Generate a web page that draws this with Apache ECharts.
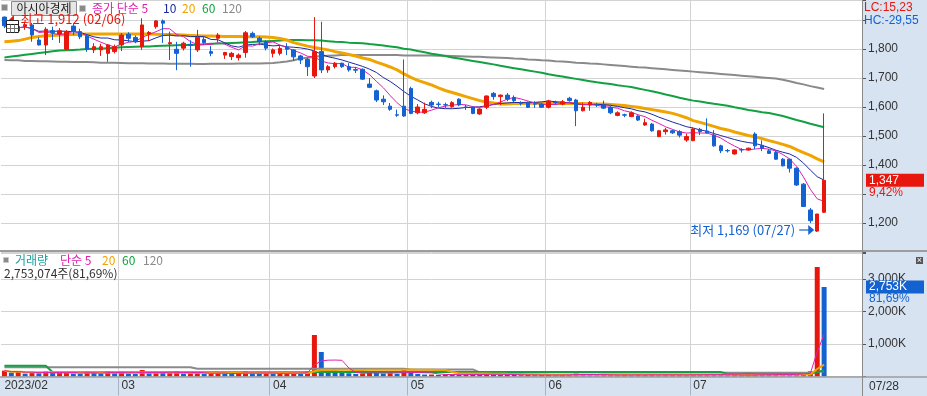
<!DOCTYPE html>
<html><head><meta charset="utf-8">
<script src="https://cdn.jsdelivr.net/npm/echarts@6/dist/echarts.min.js"></script>
<style>html,body{margin:0;padding:0;background:#fff;overflow:hidden}#c{width:927px;height:396px}</style>
</head><body><div id="c"></div>
<script>
// ---------------- DATA ----------------
const dates = [
'2023/02/06','2023/02/07','2023/02/08','2023/02/09','2023/02/10','2023/02/13','2023/02/14','2023/02/15','2023/02/16','2023/02/17','2023/02/20','2023/02/21','2023/02/22','2023/02/23','2023/02/24','2023/02/27','2023/02/28',
'2023/03/02','2023/03/03','2023/03/06','2023/03/07','2023/03/08','2023/03/09','2023/03/10','2023/03/13','2023/03/14','2023/03/15','2023/03/16','2023/03/17','2023/03/20','2023/03/21','2023/03/22','2023/03/23','2023/03/24','2023/03/27','2023/03/28','2023/03/29','2023/03/30','2023/03/31',
'2023/04/03','2023/04/04','2023/04/05','2023/04/06','2023/04/07','2023/04/10','2023/04/11','2023/04/12','2023/04/13','2023/04/14','2023/04/17','2023/04/18','2023/04/19','2023/04/20','2023/04/21','2023/04/24','2023/04/25','2023/04/26','2023/04/27','2023/04/28',
'2023/05/02','2023/05/03','2023/05/04','2023/05/08','2023/05/09','2023/05/10','2023/05/11','2023/05/12','2023/05/15','2023/05/16','2023/05/17','2023/05/18','2023/05/19','2023/05/22','2023/05/23','2023/05/24','2023/05/25','2023/05/26','2023/05/30','2023/05/31',
'2023/06/01','2023/06/02','2023/06/05','2023/06/07','2023/06/08','2023/06/09','2023/06/12','2023/06/13','2023/06/14','2023/06/15','2023/06/16','2023/06/19','2023/06/20','2023/06/21','2023/06/22','2023/06/23','2023/06/26','2023/06/27','2023/06/28','2023/06/29','2023/06/30',
'2023/07/03','2023/07/04','2023/07/05','2023/07/06','2023/07/07','2023/07/10','2023/07/11','2023/07/12','2023/07/13','2023/07/14','2023/07/17','2023/07/18','2023/07/19','2023/07/20','2023/07/21','2023/07/24','2023/07/25','2023/07/26','2023/07/27','2023/07/28'
];
const padSlots = ['p1','p2','p3','p4','p5'];

const opens = [
1910,1878,1862,1878,1883,1831,1814,1863,1852,1799,1879,1860,1845,1797,1797,1785,1791,
1814,1851,1840,1808,1852,1877,1897,1818,1799,1803,1816,1797,1833,1791,1837,1779,1774,1770,1788,1854,1837,1825,
1785,1785,1806,1797,1776,1764,1707,1791,1728,1739,1751,1739,1729,1730,1679,1656,1627,1603,1573,1603,
1664,1580,1580,1616,1610,1608,1601,1627,1600,1599,1576,1599,1647,1636,1641,1633,1614,1615,1611,1610,
1599,1616,1610,1630,1624,1587,1607,1608,1607,1599,1571,1573,1567,1569,1538,1541,1498,1515,1518,1515,1486,
1484,1523,1517,1503,1466,1450,1438,1453,1452,1507,1468,1449,1443,1420,1420,1389,1334,1245,1172,1237
];
const highs = [
1912,1888,1884,1892,1890,1840,1875,1877,1872,1865,1886,1870,1850,1820,1818,1817,1815,
1855,1858,1847,1906,1862,1900,1902,1860,1825,1825,1830,1866,1845,1810,1855,1790,1790,1785,1862,1860,1843,1830,
1802,1810,1820,1800,1780,1770,1910,1894,1745,1755,1753,1751,1738,1733,1700,1660,1640,1614,1591,1764,
1670,1610,1615,1622,1618,1615,1620,1630,1607,1602,1596,1640,1652,1643,1648,1640,1620,1619,1620,1614,
1625,1622,1624,1635,1628,1615,1620,1614,1622,1603,1585,1577,1585,1571,1560,1545,1520,1528,1522,1520,1508,
1530,1528,1561,1520,1470,1455,1454,1458,1460,1513,1485,1455,1450,1424,1422,1392,1338,1252,1231,1578
];
const lows = [
1872,1856,1855,1866,1825,1812,1779,1831,1821,1795,1848,1834,1790,1786,1776,1756,1785,
1793,1824,1820,1797,1828,1870,1821,1762,1727,1795,1739,1790,1815,1775,1824,1766,1762,1760,1770,1838,1813,1795,
1771,1778,1779,1759,1748,1707,1700,1717,1718,1733,1735,1722,1717,1694,1665,1617,1607,1587,1566,1566,
1575,1575,1576,1596,1600,1597,1598,1603,1590,1575,1573,1593,1625,1607,1620,1617,1605,1597,1597,1597,
1595,1607,1606,1618,1534,1585,1587,1600,1593,1575,1568,1565,1565,1552,1535,1515,1496,1505,1507,1495,1480,
1482,1503,1508,1463,1441,1443,1436,1443,1450,1455,1448,1438,1418,1395,1374,1328,1255,1200,1169,1235
];
const closes = [
1880,1862,1878,1884,1848,1814,1868,1856,1863,1860,1860,1842,1799,1808,1808,1814,1808,
1848,1837,1825,1883,1857,1897,1889,1822,1785,1820,1812,1840,1822,1785,1848,1788,1785,1779,1856,1842,1825,1803,
1797,1802,1799,1773,1762,1739,1791,1728,1739,1751,1739,1728,1727,1696,1668,1624,1618,1592,1572,1569,
1578,1600,1592,1607,1609,1607,1615,1607,1599,1578,1593,1638,1636,1641,1627,1622,1613,1599,1610,1599,
1621,1615,1618,1622,1587,1599,1616,1607,1596,1580,1580,1572,1580,1555,1546,1518,1518,1521,1511,1503,1498,
1524,1515,1511,1466,1449,1449,1452,1452,1458,1466,1458,1440,1420,1397,1389,1331,1257,1208,1231,1347
];
// moving averages (they need history before the first candle)
const ma20 = [
1825,1827,1829,1834,1840,1843,1846,1847,1848,1850,1850,1851,1852,1852,1852,1852,1852,
1852,1852,1852,1852,1852,1851,1850,1850,1849,1848,1847,1846,1845,1845,1844,1843,1843,1843,1842,1842,1842,1841,
1840,1836,1831,1822,1816,1810,1805,1801,1797,1791,1786,1781,1776,1769,1764,1755,1747,1738,1728,1714,
1702,1692,1684,1676,1666,1657,1650,1643,1636,1629,1622,1617,1614,1610,1610,1612,1612,1613,1613,1613,
1612,1612,1612,1612,1612,1612,1611,1610,1610,1609,1607,1605,1602,1599,1595,1591,1587,1583,1578,1571,1563,
1553,1547,1540,1533,1526,1521,1514,1508,1502,1497,1491,1484,1478,1471,1464,1453,1443,1433,1421,1411
];
const ma60 = [
1771,1774,1777,1780,1783,1786,1789,1792,1795,1796,1797,1798,1800,1801,1802,1803,1804,
1806,1807,1808,1809,1809,1810,1811,1812,1813,1814,1814,1815,1816,1818,1819,1820,1821,1822,1823,1824,1826,1827,
1828,1829,1831,1831,1831,1830,1830,1829,1827,1825,1824,1822,1821,1820,1817,1815,1812,1809,1806,1801,
1798,1793,1789,1784,1780,1776,1771,1767,1763,1759,1755,1751,1747,1742,1738,1734,1730,1726,1722,1718,
1713,1709,1705,1701,1697,1693,1689,1685,1682,1679,1675,1672,1669,1664,1659,1654,1649,1643,1638,1632,1627,
1622,1619,1615,1611,1608,1604,1599,1595,1590,1586,1582,1579,1574,1569,1562,1555,1549,1542,1536,1530
];
const ma120 = [
1762,1761,1761,1759,1759,1758,1758,1757,1756,1756,1755,1755,1755,1754,1753,1753,1753,
1752,1751,1751,1751,1750,1750,1750,1749,1749,1749,1749,1748,1748,1749,1749,1749,1749,1750,1750,1750,1750,1751,
1752,1754,1757,1761,1767,1770,1773,1776,1777,1778,1779,1779,1779,1779,1779,1779,1779,1779,1779,1778,
1778,1778,1778,1778,1777,1777,1776,1775,1774,1773,1773,1772,1771,1770,1769,1767,1766,1764,1763,1761,
1760,1758,1757,1755,1753,1752,1750,1749,1747,1745,1743,1741,1739,1737,1736,1734,1732,1730,1728,1726,1724,
1722,1720,1718,1716,1714,1712,1710,1708,1706,1704,1702,1700,1698,1694,1689,1683,1678,1672,1667,1662
];
// volume in thousands of shares
const volumes = [
180,120,150,90,130,100,160,110,120,140,90,80,150,110,90,160,100,
150,90,80,200,100,120,110,130,170,90,100,140,80,90,110,100,80,90,160,100,90,110,
90,100,110,120,100,150,1277,754,230,120,110,100,80,90,150,120,90,100,80,200,
150,80,60,60,50,70,60,50,60,70,60,90,60,50,60,50,40,50,40,50,
50,40,50,60,90,60,50,40,50,60,40,50,40,60,50,60,40,50,50,60,40,
60,50,70,60,50,40,50,40,40,80,60,50,60,70,60,80,120,160,3370,2753.074
];
// long volume averages (they need history before the first bar)
const vma60 = [
330,330,330,330,330,330,330,
130,130,130,130,130,130,130,130,130,130,130,130,130,130,130,130,130,130,130,130,130,130,130,130,130,130,130,130,130,130,130,130,
130,130,130,130,130,130,
131,144,
135,135,135,135,135,135,135,135,135,135,135,135,135,135,135,135,135,135,135,135,135,135,135,135,135,135,135,135,135,
135,135,135,135,135,135,135,135,135,135,135,135,135,135,135,135,135,135,135,135,135,135,135,135,135,135,135,135,135,
80,80,80,80,80,80,80,80,80,80,80,80,80,
136,182
];
const vma120 = [
285,285,285,285,285,285,285,285,285,285,285,285,285,285,285,285,285,285,285,285,285,285,285,285,285,285,285,285,
240,240,240,240,240,240,240,240,240,240,240,240,240,240,240,240,240,240,240,240,240,240,240,240,240,240,240,240,240,240,240,
218,218,218,218,218,218,218,218,218,218,
128,128,128,128,128,128,128,128,128,128,128,128,128,128,128,128,128,128,
122,122,122,122,122,122,122,122,122,122,122,122,122,122,122,122,122,122,
112,112,112,112,112,112,112,112,112,112,112,112,112,
140,163
];
const priceLabels = [1200,1400,1500,1600,1700,1800];
const volLabels = [1000,2000,3000];

// ---------------- STYLE ----------------
const RED='#e8170d', BLUE='#1462d2', PANEL='#d7e3f1';
const C_MA5='#e020b0', C_MA10='#1c2aa0', C_MA20='#f0a400', C_MA60='#13a043', C_MA120='#8a8a8a', C_VOL='#1aa0a0';
const NUMF='"Liberation Sans", Arial, sans-serif';
const KRF='"Noto Sans CJK KR", sans-serif';

function sma(arr,n){return arr.map((_,i)=>{const s=Math.max(0,i-n+1);let t=0;for(let k=s;k<=i;k++)t+=arr[k];return +(t/(i-s+1)).toFixed(2);});}
const fmtInt=v=>Math.round(v).toString().replace(/\B(?=(\d{3})+(?!\d))/g,',');
const fmtDec=v=>v.toFixed(2).replace('.',',');

const N=dates.length;
const cats=dates.concat(padSlots);
const monthStart=new Set(dates.map((d,i)=>i>0&&d.slice(5,7)!==dates[i-1].slice(5,7)?i:-1).filter(i=>i>=0));
const ma5=sma(closes,5), ma10=sma(closes,10);
const vma5=sma(volumes,5), vma20=sma(volumes,20);
const ohlc=dates.map((_,i)=>[opens[i],closes[i],lows[i],highs[i]]);
const volData=volumes.map((v,i)=>({value:v,itemStyle:{color:(i===0||v>=volumes[i-1])?RED:BLUE}}));

const chart=echarts.init(document.getElementById('c'),null,{renderer:'canvas'});
const xBase=(g)=>({type:'category',gridIndex:g,data:cats,boundaryGap:true,
  axisLine:{show:false},axisTick:{show:false},axisLabel:{show:false},
  splitLine:{show:true,interval:(i)=>monthStart.has(i),lineStyle:{color:'#d3d3d3',width:1}}});
const xVol=xBase(1);
xVol.axisLabel={show:true,interval:(i)=>i===0||monthStart.has(i),align:'left',margin:3,color:'#333',fontSize:12,fontFamily:NUMF,
  formatter:(v,i)=>i===0?v.slice(0,7):v.slice(5,7)};
xVol.axisTick={show:true,interval:(i)=>monthStart.has(i),length:19,lineStyle:{color:'#a9b4c2'}};

const lineS=(name,data,color,width,xi,yi,z)=>({name,type:'line',data,xAxisIndex:xi,yAxisIndex:yi,symbol:'none',showSymbol:false,
  lineStyle:{color,width},itemStyle:{color},z,silent:true,animation:false});

chart.setOption({
  animation:false,
  backgroundColor:'#ffffff',
  grid:[{left:1,right:65,top:0,height:252},{left:1,right:65,top:253,height:123.5}],
  xAxis:[xBase(0),xVol],
  yAxis:[
    {type:'value',gridIndex:0,position:'right',min:1100,max:1969,interval:100,
     axisLine:{show:true,lineStyle:{color:'#7c7c7c'}},axisTick:{show:true,length:4,lineStyle:{color:'#555'}},
     axisLabel:{color:'#333',fontSize:12,fontFamily:NUMF,margin:6,formatter:v=>priceLabels.includes(v)?fmtInt(v):''},
     splitLine:{lineStyle:{color:'#d3d3d3'}}},
    {type:'value',gridIndex:1,position:'right',min:0,max:3800,interval:1000,
     axisLine:{show:true,lineStyle:{color:'#7c7c7c'}},axisTick:{show:true,length:4,lineStyle:{color:'#555'}},
     axisLabel:{color:'#333',fontSize:12,fontFamily:NUMF,margin:6,formatter:v=>volLabels.includes(v)?fmtInt(v)+'K':''},
     splitLine:{lineStyle:{color:'#d3d3d3'}}}
  ],
  series:[
    lineS('MA120',ma120,C_MA120,2,0,0,2),
    lineS('MA60',ma60,C_MA60,2,0,0,2),
    lineS('MA20',ma20,C_MA20,3,0,0,3),
    lineS('MA10',ma10,C_MA10,1,0,0,3),
    lineS('MA5',ma5,C_MA5,1,0,0,3),
    {name:'price',type:'candlestick',xAxisIndex:0,yAxisIndex:0,data:ohlc,barWidth:4,z:5,silent:true,
     itemStyle:{color:RED,color0:BLUE,borderColor:RED,borderColor0:BLUE,borderWidth:1}},
    {name:'vol',type:'bar',xAxisIndex:1,yAxisIndex:1,data:volData,barWidth:5,z:2,silent:true},
    lineS('VMA120',vma120,C_MA120,2,1,1,3),
    lineS('VMA60',vma60,C_MA60,2,1,1,3),
    lineS('VMA20',vma20,C_MA20,2,1,1,3),
    lineS('VMA5',vma5,C_MA5,1,1,1,4)
  ]
});

// ---------------- ANNOTATIONS ----------------
const txt=(text,x,y,fill,font,align)=>({type:'text',z:70,silent:true,
  style:{text,x,y,fill,font,textAlign:align||'left',align:align||'left',textVerticalAlign:'middle',verticalAlign:'middle'}});
const rect=(x,y,w,h,fill,stroke,z)=>({type:'rect',z:z==null?50:z,silent:true,shape:{x,y,width:w,height:h},style:{fill,stroke:stroke||null,lineWidth:1}});
const line=(x1,y1,x2,y2,stroke,w,z)=>({type:'line',z:z==null?60:z,silent:true,shape:{x1,y1,x2,y2},style:{stroke,lineWidth:w}});

const last=N-1;
const hiVal=Math.max(...highs), hiIdx=highs.indexOf(hiVal);
const loVal=Math.min(...lows), loIdx=lows.indexOf(loVal);
const pHi=chart.convertToPixel({gridIndex:0},[hiIdx,hiVal]);
const pLo=chart.convertToPixel({gridIndex:0},[loIdx,loVal]);
const pC=chart.convertToPixel({gridIndex:0},[last,closes[last]]);
const pV=chart.convertToPixel({gridIndex:1},[last,volumes[last]]);
const chg=(closes[last]/closes[last-1]-1)*100;
const vchg=volumes[last]/volumes[last-1]*100;
const lc=(closes[last]/loVal-1)*100, hc=(closes[last]/hiVal-1)*100;
const md=d=>d.slice(5);

const g=[
  rect(862,0,65,396,PANEL,null,-10),
  rect(0,377,927,19,PANEL,null,-10),
  line(0,251,927,251,'#9c9c9c',2,60),
  line(0,377,927,377,'#9c9c9c',1.5,60),
  line(862.5,0,862.5,396,'#8a8a8a',1,60),
  // header legend
  rect(1.5,4.5,6,6,'#8a8a8a','#c8c8c8'),
  rect(11.5,1.5,65,14,'#e6e6e6','#8c8c8c'),
  txt('아시아경제',44,8.5,'#222','12px '+KRF,'center'),
  rect(79.5,5.5,6,6,'#8a8a8a','#c8c8c8'),
  txt('종가 단순 5',92,8,C_MA5,'12px '+KRF),
  txt('10',163,8,C_MA10,'12px '+KRF),
  txt('20',182,8,C_MA20,'12px '+KRF),
  txt('60',202,8,C_MA60,'12px '+KRF),
  txt('120',222,8,C_MA120,'12px '+KRF),
  // grid icon
  rect(6.5,20.5,12,12,'#ffffff','#222'),
  line(6.5,24.5,18.5,24.5,'#222',1),
  line(6.5,28.5,18.5,28.5,'#777',1),
  line(10.5,24.5,10.5,32.5,'#777',1),
  line(14.5,24.5,14.5,32.5,'#777',1),
  // high marker
  {type:'polygon',z:55,silent:true,shape:{points:[[pHi[0]+4.5,pHi[1]+3.5],[pHi[0]+9.5,pHi[1]-1.5],[pHi[0]+9.5,pHi[1]+3.5]]},style:{fill:RED}},
  txt('최고 '+fmtInt(hiVal)+' ('+md(dates[hiIdx])+')',pHi[0]+16,pHi[1]+2.5,RED,'13px '+KRF),
  // low marker
  txt('최저 '+fmtInt(loVal)+' ('+md(dates[loIdx])+')',pLo[0]-22,pLo[1]-2,BLUE,'13px '+KRF,'right'),
  line(pLo[0]-18,pLo[1]-2,pLo[0]-8,pLo[1]-2,BLUE,1.2),
  {type:'polygon',z:55,silent:true,shape:{points:[[pLo[0]-9,pLo[1]-7],[pLo[0]-3,pLo[1]-2],[pLo[0]-9,pLo[1]+3]]},style:{fill:BLUE}},
  // right axis texts
  txt('LC:'+fmtDec(lc),864,7.5,RED,'12px '+NUMF),
  txt('HC:'+fmtDec(hc),864,20.5,BLUE,'12px '+NUMF),
  rect(866,pC[1]-6.5,58,13,RED,null,55),
  txt(fmtInt(closes[last]),869,pC[1],'#ffffff','12px '+NUMF),
  txt(fmtDec(chg)+'%',869,pC[1]+12,RED,'12px '+NUMF),
  // volume legend
  rect(3.5,257.5,5,5,'#8a8a8a','#c8c8c8'),
  txt('거래량',15,260.5,C_VOL,'12px '+KRF),
  txt('단순 5',60,260.5,C_MA5,'12px '+KRF),
  txt('20',102,260.5,C_MA20,'12px '+KRF),
  txt('60',122,260.5,C_MA60,'12px '+KRF),
  txt('120',143,260.5,C_MA120,'12px '+KRF),
  txt(fmtInt(volumes[last]*1000)+'주('+fmtDec(vchg)+'%)',4,273,'#333','12px '+KRF),
  rect(866,pV[1]-6.5,58,13,BLUE,null,55),
  txt(fmtInt(volumes[last])+'K',869,pV[1],'#ffffff','12px '+NUMF),
  txt(fmtDec(vchg)+'%',869,pV[1]+12,BLUE,'12px '+NUMF),
  rect(916,257,7,7,'#555',null,55),
  txt('×',919.5,260.5,'#fff','9px '+NUMF,'center'),
  // current date in axis strip
  txt(md(dates[last]),869,386.5,'#333','12px '+NUMF)
];
chart.setOption({graphic:{elements:g}});
</script>
</body></html>
